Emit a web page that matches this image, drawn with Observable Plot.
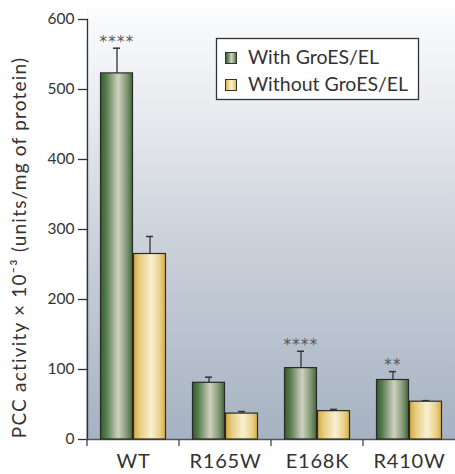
<!DOCTYPE html>
<html><head><meta charset="utf-8">
<script src="https://cdn.jsdelivr.net/npm/d3@7"></script>
<script src="https://cdn.jsdelivr.net/npm/@observablehq/plot@0.6"></script>
<style>
body{margin:0;background:#fff;}
#wrap{position:relative;width:455px;height:474px;}
</style></head><body><div id="wrap"></div>
<script>
const categories = ["WT", "R165W", "E168K", "R410W"];
const seriesNames = ["With GroES/EL", "Without GroES/EL"];
const withValues = [523, 81, 102, 85];
const withErrors = [36, 8, 24, 12];
const withoutValues = [265, 37, 40.5, 54];
const withoutErrors = [25, 3, 2.5, 1.5];
const significance = ["****", "", "****", "**"];
const yTicks = [0, 100, 200, 300, 400, 500, 600];
const yLabel = "PCC activity × 10⁻³ (units/mg of protein)";

const FONT = "Lato, 'Open Sans', sans-serif";
const TEXT = "#333";

const rows = [];
categories.forEach((c, i) => {
  rows.push({category: c, series: seriesNames[0], value: withValues[i], err: withErrors[i], sig: significance[i]});
  rows.push({category: c, series: seriesNames[1], value: withoutValues[i], err: withoutErrors[i], sig: ""});
});
const fillFor = {[seriesNames[0]]: "url(#gGreen)", [seriesNames[1]]: "url(#gYellow)"};

const plot = Plot.plot({
  width: 455,
  height: 474,
  marginLeft: 86,
  marginRight: 0,
  marginTop: 19,
  marginBottom: 35,
  style: {fontFamily: FONT, color: TEXT, background: "transparent"},
  fx: {domain: categories, padding: 0, label: null, axis: null},
  x: {domain: seriesNames, paddingInner: 0, paddingOuter: 0.37, axis: null},
  y: {domain: [0, 600], axis: null},
  marks: [
    Plot.axisY({ticks: yTicks, tickSize: 9, tickPadding: 4, fontSize: 15.5, label: null, stroke: TEXT, fill: TEXT, strokeWidth: 1.3}),
    Plot.text([yLabel], {frameAnchor: "left", textAnchor: "middle", rotate: -90, dx: -68, dy: 18, fontSize: 19, fill: TEXT, facetAnchor: "left"}),
    Plot.axisFx({anchor: "bottom", tickSize: 0, tickPadding: 14, fontSize: 20, label: null, fill: TEXT}),
    Plot.frame({anchor: "left", stroke: TEXT, strokeWidth: 1.3, facetAnchor: "left"}),
    Plot.ruleY([0], {stroke: "#555", strokeWidth: 1.5}),
    Plot.ruleX(rows, {fx: "category", x: "series", y1: "value", y2: d => d.value + d.err, stroke: "#333", strokeWidth: 1.3}),
    Plot.tickY(rows, {fx: "category", x: "series", y: d => d.value + d.err, stroke: "#333", strokeWidth: 1.5, insetLeft: 13, insetRight: 13}),
    Plot.barY(rows, {fx: "category", x: "series", y: "value", fill: d => fillFor[d.series], stroke: "#2a2a2a", strokeWidth: 1.2, insetLeft: 0.5, insetRight: 0.5}),
    Plot.text(rows, {fx: "category", x: "series", y: d => d.value + d.err, text: "sig", dy: -6, fontSize: 15, fontFamily: "'DejaVu Sans', sans-serif", fill: "#555"})
  ]
});

const svg = d3.select(plot);
const defs = svg.insert("defs", ":first-child");
const bg = defs.append("linearGradient").attr("id", "gBg").attr("x1", 0).attr("y1", 0).attr("x2", 0).attr("y2", 1);
[["0%", "#fbfcfd"], ["25%", "#e7eaee"], ["60%", "#c6cdd7"], ["100%", "#a6b2c2"]].forEach(([o, c]) => bg.append("stop").attr("offset", o).attr("stop-color", c));
const gg = defs.append("linearGradient").attr("id", "gGreen").attr("x1", 0).attr("y1", 0).attr("x2", 1).attr("y2", 0);
[["0%", "#2f5e2a"], ["20%", "#5f8055"], ["55%", "#cfd2bf"], ["80%", "#8a9d7c"], ["100%", "#3d6936"]].forEach(([o, c]) => gg.append("stop").attr("offset", o).attr("stop-color", c));
const gy = defs.append("linearGradient").attr("id", "gYellow").attr("x1", 0).attr("y1", 0).attr("x2", 1).attr("y2", 0);
[["0%", "#d2a93e"], ["20%", "#e7cd7f"], ["55%", "#f7f0d2"], ["80%", "#ecd590"], ["100%", "#d5ae45"]].forEach(([o, c]) => gy.append("stop").attr("offset", o).attr("stop-color", c));

const fx = plot.scale("fx");
const yS = plot.scale("y");
const y0 = yS.apply(0);
const [fxa, fxb] = fx.range;
svg.insert("rect", "defs + *").attr("x", fxa).attr("y", 8).attr("width", fxb - fxa).attr("height", y0 - 8)
  .attr("fill", "url(#gBg)");

// widen the category labels and asterisks a bit
svg.selectAll("g[aria-label='fx-axis tick label'] text").style("letter-spacing", "0.8px");
svg.selectAll("g[aria-label='text'] text").style("letter-spacing", "1.2px");

categories.forEach(c => {
  const x = fx.apply(c);
  svg.append("line").attr("x1", x).attr("x2", x).attr("y1", y0).attr("y2", y0 + 7)
    .attr("stroke", "#444").attr("stroke-width", 1.3);
});

// legend
const lg = svg.append("g").attr("font-family", FONT).attr("font-size", 19.5).attr("fill", TEXT).attr("text-anchor", "start");
lg.append("rect").attr("x", 216.5).attr("y", 38.5).attr("width", 202).attr("height", 61)
  .attr("fill", "#fff").attr("stroke", "#333").attr("stroke-width", 1.3);
seriesNames.forEach((s, i) => {
  const yy = 52 + i * 27;
  lg.append("rect").attr("x", 225.5).attr("y", yy + 0.5).attr("width", 11).attr("height", 11)
    .attr("fill", fillFor[s]).attr("stroke", "#333").attr("stroke-width", 1);
  lg.append("text").attr("x", 248).attr("y", yy + 11.5).text(s);
});

document.getElementById("wrap").appendChild(plot);
</script></body></html>
